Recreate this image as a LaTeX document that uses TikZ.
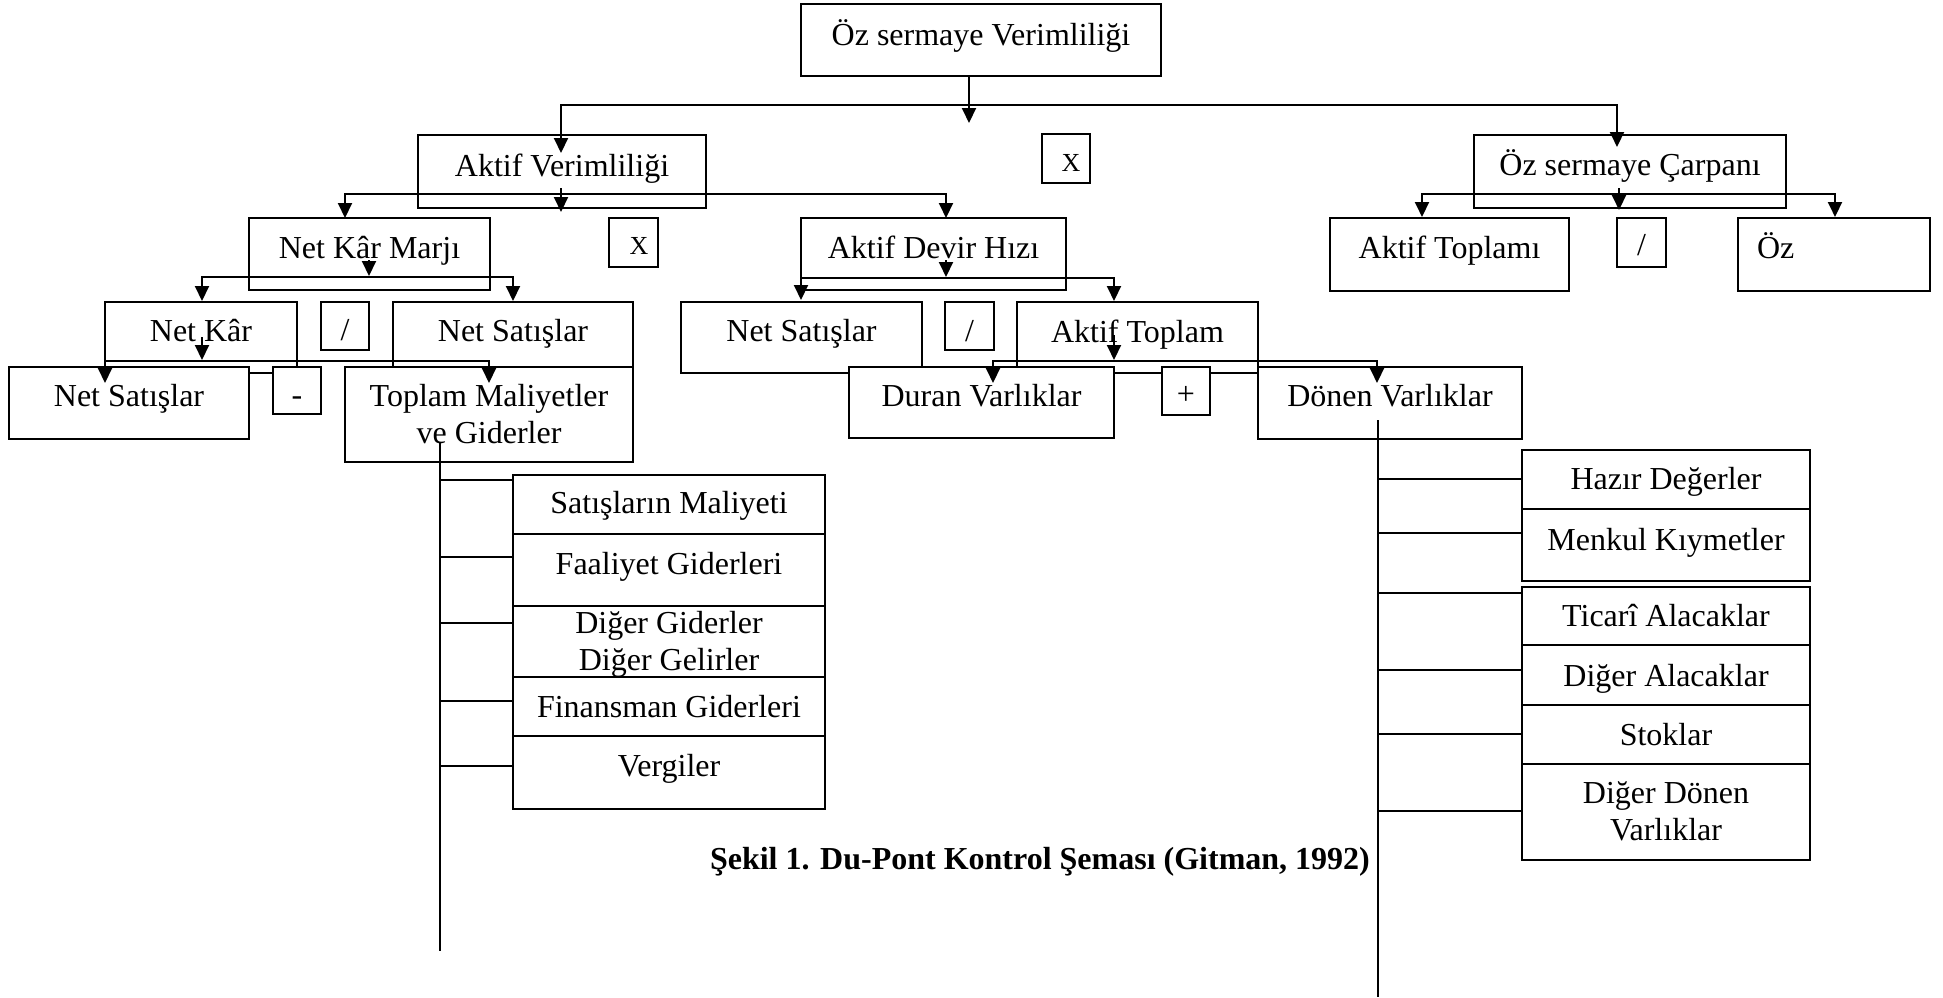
\documentclass[tikz,border=0pt]{standalone}
\usepackage{fontspec}
\setmainfont{Liberation Serif}
\usetikzlibrary{arrows.meta,fit}
\tikzset{
  box/.style={draw, line width=1.1pt, fill=white, inner sep=0pt, outer sep=0pt},
  txt/.style={inner sep=0pt, outer sep=0pt, font=\fontsize{16pt}{18pt}\selectfont},
  smalltxt/.style={inner sep=0pt, outer sep=0pt, font=\fontsize{13pt}{15pt}\selectfont},
  captxt/.style={inner sep=0pt, outer sep=0pt, font=\fontsize{16pt}{18pt}\selectfont\bfseries},
  ln/.style={line width=1pt},
  arr/.style={ln, -{Triangle[width=7pt,length=7.5pt]}},
  barr/.style={ln, {Triangle[width=7pt,length=7.5pt]}-{Triangle[width=7pt,length=7.5pt]}},
}
% name, x1, y1, x2, y2, baseline, text
\newcommand\bxb[7]{%
  \node[box, fit={(#2,#3) (#4,#5)}] (#1) {};
  \node[txt, anchor=base] (#1-t) at ({(#2+#4)/2},#6) {#7};
}
\begin{document}
\begin{tikzpicture}[x=0.5pt, y=-0.5pt]
\useasboundingbox (0,0) rectangle (1943,997);

% level 0 and 1
\bxb{oz}{801}{4}{1161}{76}{45}{Öz sermaye Verimliliği}
\bxb{av}{418}{135}{706}{208}{176}{Aktif Verimliliği}
\node[box, fit={(1042,134) (1090,183)}] (x1) {};
\node[smalltxt, anchor=base] (x1-t) at (1071,171) {X};
\bxb{osc}{1474}{135}{1786}{208}{175}{Öz sermaye Çarpanı}

% level 2
\bxb{nkm}{249}{218}{490}{290}{258}{Net Kâr Marjı}
\node[box, fit={(609,218) (658,267)}] (x2) {};
\node[smalltxt, anchor=base] (x2-t) at (639,254) {X};
\bxb{adh}{801}{218}{1066}{290}{258}{Aktif Devir Hızı}
\bxb{atl}{1330}{218}{1569}{291}{258}{Aktif Toplamı}
\bxb{sl1}{1617}{218}{1666}{267}{255}{/}
\node[box, fit={(1738,218) (1930,291)}] (ozb) {};
\node[txt, anchor=base west] (ozb-t) at (1757,258) {Öz};

% level 3
\bxb{nk}{105}{302}{297}{373}{341}{Net Kâr}
\bxb{sl2}{321}{302}{369}{350}{340}{/}
\bxb{nsa}{393}{302}{633}{373}{341}{Net Satışlar}
\bxb{nsb}{681}{302}{922}{373}{341}{Net Satışlar}
\bxb{sl3}{945}{302}{994}{350}{341}{/}
\bxb{atp}{1017}{302}{1258}{373}{342}{Aktif Toplam}

% level 4
\bxb{nsc}{9}{367}{249}{439}{406}{Net Satışlar}
\bxb{mns}{273}{367}{321}{414}{405}{-}
\bxb{tmg}{345}{367}{633}{462}{406}{Toplam Maliyetler}
\node[txt, anchor=base] (tmg-t2) at (489,443) {ve Giderler};
\bxb{dur}{849}{367}{1114}{438}{406}{Duran Varlıklar}
\bxb{pls}{1162}{367}{1210}{415}{404}{+}
\bxb{don}{1258}{367}{1522}{439}{406}{Dönen Varlıklar}

% left list
\bxb{sm}{513}{475}{825}{534}{513}{Satışların Maliyeti}
\bxb{fg}{513}{534}{825}{606}{574}{Faaliyet Giderleri}
\bxb{dg}{513}{606}{825}{677}{633}{Diğer Giderler}
\node[txt, anchor=base] (dg-t2) at (669,670) {Diğer Gelirler};
\bxb{fin}{513}{677}{825}{736}{717}{Finansman Giderleri}
\bxb{vg}{513}{736}{825}{809}{776}{Vergiler}

% right list
\bxb{hd}{1522}{450}{1810}{509}{489}{Hazır Değerler}
\bxb{mk}{1522}{509}{1810}{581}{550}{Menkul Kıymetler}
\bxb{ta}{1522}{587}{1810}{645}{626}{Ticarî Alacaklar}
\bxb{da}{1522}{645}{1810}{705}{686}{Diğer Alacaklar}
\bxb{st}{1522}{705}{1810}{764}{745}{Stoklar}
\bxb{ddv}{1522}{764}{1810}{860}{803}{Diğer Dönen}
\node[txt, anchor=base] (ddv-t2) at (1666,840) {Varlıklar};

% caption
\node[captxt, anchor=base west] (cap) at (710,869) {Şekil 1. Du-Pont Kontrol Şeması (Gitman, 1992)};

% connectors
\coordinate (c0) at (969,123);
\draw[arr] (oz.south -| c0) -- (c0);
\draw[barr] (561,153) -- (561,105) -- (1617,105) -- (1617,147);

\draw[arr] (561,188) -- (561,212);
\draw[barr] (345,218) -- (345,194) -- (946,194) -- (946,218);
\draw[arr] (1619,188) -- (1619,210);
\draw[barr] (1422,217) -- (1422,194) -- (1835,194) -- (1835,217);

\draw[arr] (369,260) -- (369,276);
\draw[barr] (202,301) -- (202,277) -- (513,277) -- (513,301);
\draw[arr] (946,260) -- (946,277);
\draw[barr] (801,300) -- (801,278) -- (1114,278) -- (1114,301);

\draw[arr] (202,337) -- (202,360);
\draw[barr] (105,383) -- (105,361) -- (489,361) -- (489,383);
\draw[arr] (1114,335) -- (1114,360);
\draw[barr] (993,383) -- (993,361) -- (1377,361) -- (1377,383);

% left list tree
\coordinate (lt) at (440,442);
\coordinate (lb) at (440,951);
\draw[ln] (lt) -- (lb);
\foreach \yy/\nn in {480/sm, 557/fg, 623/dg, 701/fin, 766/vg}
  \draw[ln] (440,\yy) -- (\nn.west |- 440,\yy);

% right list tree
\coordinate (rt) at (1378,420);
\coordinate (rb) at (1378,997);
\draw[ln] (rt) -- (rb);
\foreach \yy/\nn in {479/hd, 533/mk, 593/ta, 670/da, 734/st, 811/ddv}
  \draw[ln] (1378,\yy) -- (\nn.west |- 1378,\yy);
\end{tikzpicture}
\end{document}
